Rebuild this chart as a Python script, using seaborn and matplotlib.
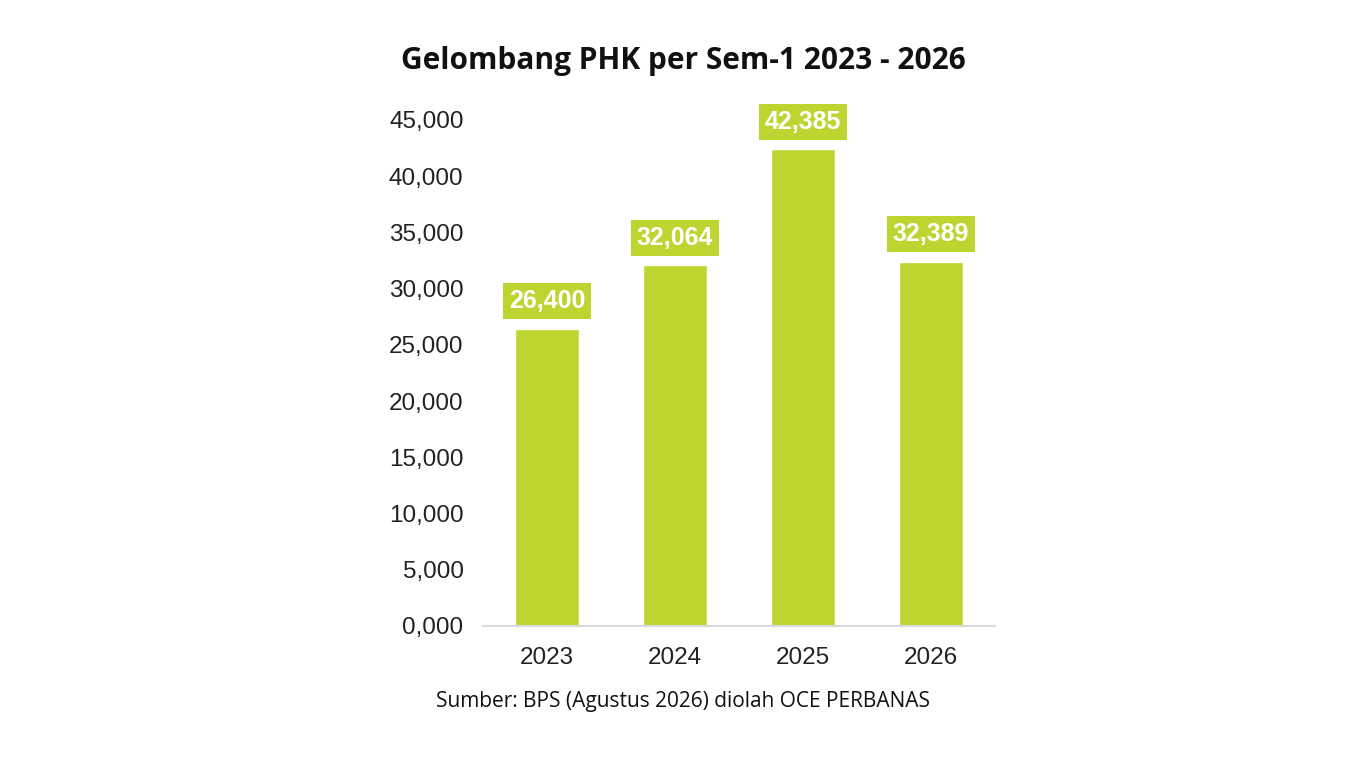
import matplotlib
matplotlib.use("Agg")
import matplotlib.pyplot as plt
import seaborn as sns
import pandas as pd

years = ["2023", "2024", "2025", "2026"]
values = [26400, 32064, 42385, 32389]
y_ticks = [0, 5000, 10000, 15000, 20000, 25000, 30000, 35000, 40000, 45000]
y_tick_labels = ["0,000", "5,000", "10,000", "15,000", "20,000", "25,000",
                 "30,000", "35,000", "40,000", "45,000"]
title = "Gelombang PHK per Sem-1 2023 - 2026"
source = "Sumber: BPS (Agustus 2026) diolah OCE PERBANAS"

GREEN = "#BED531"

sns.set_theme(style="white")
plt.rcParams['font.family'] = ['Liberation Sans', 'DejaVu Sans']

df = pd.DataFrame({"year": years, "value": values})

fig = plt.figure(figsize=(13.66, 7.68), dpi=100)
ax = fig.add_axes([0.3536, 0.1849, 0.3748, 0.6589])

sns.barplot(data=df, x="year", y="value", color=GREEN, width=0.5,
            saturation=1, ax=ax)

ax.set_xlim(-0.5, 3.5)
ax.set_ylim(0, 45000)
ax.set_yticks(y_ticks)
ax.set_yticklabels(y_tick_labels)
ax.set_xlabel("")
ax.set_ylabel("")
ax.tick_params(axis='both', length=0, labelsize=17.5, colors="#222222")
ax.tick_params(axis='y', pad=14)
ax.tick_params(axis='x', pad=15)
for s in ["top", "right", "left"]:
    ax.spines[s].set_visible(False)
ax.spines["bottom"].set_color("#d9d9d9")
ax.spines["bottom"].set_linewidth(1.5)

for i, v in enumerate(values):
    ax.annotate(f"{v:,}", xy=(i, v), xytext=(0, 20), textcoords="offset points",
                ha="center", va="center", color="white", fontsize=18,
                fontweight="bold", annotation_clip=False,
                bbox=dict(boxstyle="square,pad=0.24", facecolor=GREEN,
                          edgecolor="none"))

fig.text(0.5, 0.921, title, ha="center", va="center", fontsize=21.5,
         fontweight="bold", family=["Open Sans", "DejaVu Sans"], color="#111111")
fig.text(0.5, 0.086, source, ha="center", va="center", fontsize=15,
         family=["Open Sans", "DejaVu Sans"], color="#111111")

fig.savefig("out.png", dpi=100)
